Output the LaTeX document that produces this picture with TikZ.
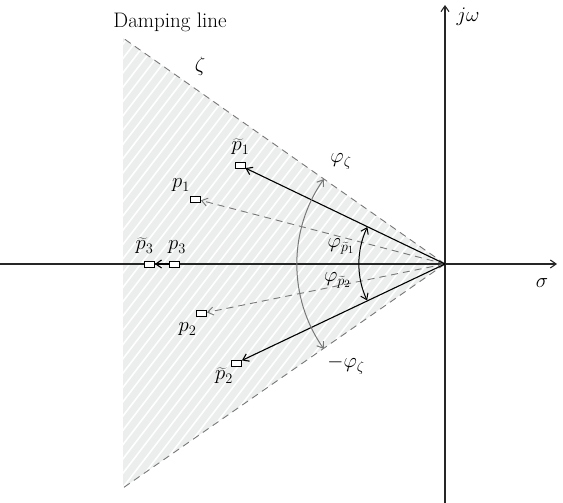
\documentclass[tikz,border=0pt]{standalone}
\usetikzlibrary{arrows.meta,calc}
\definecolor{hatchbg}{RGB}{236,237,237}
\definecolor{lgray}{RGB}{120,120,120}
\begin{document}
\begin{tikzpicture}[x=1pt,y=1pt,
  font=\fontsize{21}{25}\selectfont,
  tip/.style={-{Straight Barb[angle=70:7pt]}},
  tips/.style={{Straight Barb[angle=70:7pt]}-{Straight Barb[angle=70:7pt]}},
  axis/.style={line width=1.1pt, black!85, tip},
  dampline/.style={lgray, line width=0.9pt, dash pattern=on 7pt off 5pt},
  pole/.style={rectangle, draw=black, fill=white, line width=0.8pt, minimum width=10pt, minimum height=6pt, inner sep=0pt},
  solidarrow/.style={line width=1.1pt, black, tip},
  dasharrow/.style={lgray, line width=0.9pt, dash pattern=on 7pt off 5pt, -{Straight Barb[angle=70:7pt]}},
  grayarc/.style={lgray, line width=1pt, tips},
  blackarc/.style={black, line width=1pt, tips},
  lbl/.style={inner sep=0pt, anchor=base}
]
\useasboundingbox (0,0) rectangle (563,503);
\coordinate (O) at (445,239);
\coordinate (T) at (123,465);
\coordinate (B) at (123,15);
% shaded damping region
\begin{scope}
  \clip (O) -- (T) -- (B) -- cycle;
  \fill[hatchbg] (O) -- (T) -- (B) -- cycle;
  \foreach \i in {-50,...,50}
    \draw[white, line width=1.6pt] (100+\i*11,0) -- ++(400,520);
\end{scope}
\draw[dampline] (O) -- (T);
\draw[dampline] (O) -- (B);
% axes
\coordinate (xs) at (0,239);
\coordinate (xe) at (557,239);
\coordinate (ys) at (445,0);
\coordinate (ye) at (445,498);
\draw[axis] (xs) -- (xe);
\draw[axis] (ys) -- (ye);
% poles
\node[pole] (pt1) at (240,337.5) {};
\node[pole] (p1) at (195.5,304) {};
\node[pole] (pt3) at (149.5,239) {};
\node[pole] (p3) at (174.5,239) {};
\node[pole] (p2) at (201.5,189.5) {};
\node[pole] (pt2) at (236.5,140) {};
\draw[dasharrow] (O) -- (p1);
\draw[dasharrow] (O) -- (p2);
\draw[solidarrow] (O) -- (pt1);
\draw[solidarrow] (O) -- (pt2);
\draw[solidarrow] (p3) -- (pt3);
% arcs
\draw[grayarc] ($(O)+(145:148)$) arc[start angle=145, end angle=215, radius=148];
\draw[blackarc] ($(O)+(154.5:86)$) arc[start angle=154.5, end angle=205.1, radius=86];
% labels
\node[lbl] (dl) at (170,475) {Damping line};
\node[lbl, anchor=center] (zeta) at (200,437) {$\zeta$};
\node[lbl] (lpt1) at (240.5,352) {$\widetilde{p}_1$};
\node[lbl] (lp1) at (181,315) {$p_1$};
\node[lbl] (lpt3) at (144.5,253) {$\widetilde{p}_3$};
\node[lbl] (lp3) at (177,253) {$p_3$};
\node[lbl] (lp2) at (187.5,171) {$p_2$};
\node[lbl] (lpt2) at (224,123) {$\widetilde{p}_2$};
\node[lbl] (phz) at (341,340) {$\varphi_\zeta$};
\node[lbl] (php1) at (341,255) {$\varphi_{\widetilde{p}_1}$};
\node[lbl] (php2) at (337.5,221) {$\varphi_{\widetilde{p}_2}$};
\node[lbl] (mphz) at (346,135) {$-\varphi_\zeta$};
\node[lbl, anchor=center] (jw) at (468,486) {$j\omega$};
\node[lbl, anchor=center] (sig) at (542,220) {$\sigma$};
\end{tikzpicture}
\end{document}
